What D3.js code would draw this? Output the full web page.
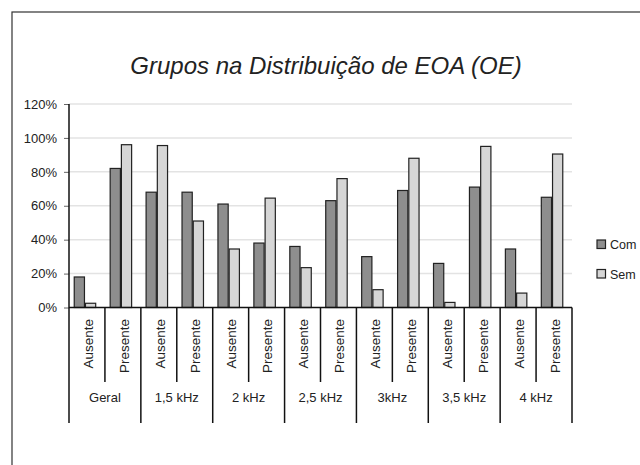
<!DOCTYPE html>
<html>
<head>
<meta charset="utf-8">
<script src="https://cdn.jsdelivr.net/npm/d3@7"></script>
<style>
  body { margin: 0; background: #fff; }
  svg { display: block; font-family: "Liberation Sans", Arial, sans-serif; }
</style>
</head>
<body>
<svg width="640" height="465"></svg>
<script>
const groups = ['Geral', '1,5 kHz', '2 kHz', '2,5 kHz', '3kHz', '3,5 kHz', '4 kHz'];
const subs = ['Ausente', 'Presente'];
const series = ['Com', 'Sem'];
const comValues = [18, 82, 68, 68, 61, 38, 36, 63, 30, 69, 26, 71, 34.5, 65];
const semValues = [2.5, 96, 95.5, 51, 34.5, 64.5, 23.5, 76, 10.5, 88, 3, 95, 8.5, 90.5];
const yTicks = [0, 20, 40, 60, 80, 100, 120];

const colors = {Com: '#8e8e8e', Sem: '#d6d6d6'};

const cats = [];
groups.forEach(g => subs.forEach(s => cats.push({group: g, sub: s})));
cats.forEach((c, i) => { c.key = i; c.Com = comValues[i]; c.Sem = semValues[i]; });

const svg = d3.select('svg');
const plotLeft = 69, plotRight = 572, plotTop = 104, plotBottom = 307.5;
const subBottom = 382, groupBottom = 423;

// chart area border
svg.append('rect')
    .attr('x', 12).attr('y', 12)
    .attr('width', 700).attr('height', 600)
    .attr('fill', 'none')
    .attr('stroke', '#333')
    .attr('stroke-width', 1.2);

svg.append('text')
    .attr('x', 326).attr('y', 74)
    .attr('text-anchor', 'middle')
    .attr('font-size', 24)
    .attr('font-style', 'italic')
    .attr('fill', '#222')
    .text('Grupos na Distribuição de EOA (OE)');

const x0 = d3.scaleBand().domain(cats.map(d => d.key)).range([plotLeft, plotRight]).padding(0);
const x1 = d3.scaleBand().domain(series).range([-2, x0.bandwidth() - 2]).paddingInner(0).paddingOuter(0.6);
const y = d3.scaleLinear().domain([0, 120]).range([plotBottom, plotTop]);

// gridlines
svg.append('g')
  .selectAll('line')
  .data(yTicks.filter(t => t > 0))
  .join('line')
    .attr('x1', plotLeft).attr('x2', plotRight)
    .attr('y1', d => y(d)).attr('y2', d => y(d))
    .attr('stroke', '#e3e3e3')
    .attr('stroke-width', 1.5);

// y axis
const yAxis = svg.append('g')
    .attr('transform', 'translate(' + plotLeft + ',0)')
    .call(d3.axisLeft(y).tickValues(yTicks).tickFormat(d => d + '%').tickSize(5).tickPadding(7));
yAxis.select('.domain').remove();
yAxis.selectAll('line').attr('stroke', '#666');
yAxis.selectAll('text').attr('font-size', 13).attr('fill', '#222').attr('font-family', '"Liberation Sans", Arial, sans-serif');

// bars
const cg = svg.append('g')
  .selectAll('g')
  .data(cats)
  .join('g')
    .attr('transform', d => 'translate(' + x0(d.key) + ',0)');

cg.selectAll('rect')
  .data(d => series.map(s => ({s: s, v: d[s]})))
  .join('rect')
    .attr('x', d => x1(d.s) + 0.5)
    .attr('y', d => y(d.v))
    .attr('width', x1.bandwidth() - 1)
    .attr('height', d => y(0) - y(d.v))
    .attr('fill', d => colors[d.s])
    .attr('stroke', '#222')
    .attr('stroke-width', 1.2);

// x axis baseline and separators
const ax = svg.append('g').attr('stroke', '#111').attr('stroke-width', 1.5);
ax.append('line').attr('x1', plotLeft).attr('x2', plotRight).attr('y1', plotBottom).attr('y2', plotBottom);
ax.append('line').attr('x1', plotLeft).attr('x2', plotLeft).attr('y1', plotTop).attr('y2', groupBottom);
ax.selectAll('.sep')
  .data(cats)
  .join('line')
    .attr('class', 'sep')
    .attr('x1', d => x0(d.key) + x0.bandwidth())
    .attr('x2', d => x0(d.key) + x0.bandwidth())
    .attr('y1', plotBottom)
    .attr('y2', d => d.sub === 'Presente' ? groupBottom : subBottom);

// sub labels
svg.append('g')
  .selectAll('text')
  .data(cats)
  .join('text')
    .attr('transform', d => 'translate(' + (x0(d.key) + x0.bandwidth() / 2 + 1) + ',319) rotate(-90)')
    .attr('dy', '0.35em')
    .attr('text-anchor', 'end')
    .attr('font-size', 13.5)
    .attr('fill', '#222')
    .text(d => d.sub);

// group labels
svg.append('g')
  .selectAll('text')
  .data(groups)
  .join('text')
    .attr('x', (g, i) => x0(i * 2) + x0.bandwidth())
    .attr('y', 402)
    .attr('text-anchor', 'middle')
    .attr('font-size', 13)
    .attr('fill', '#222')
    .text(d => d);

// legend
const lg = svg.append('g')
  .selectAll('g')
  .data(series)
  .join('g')
    .attr('transform', (d, i) => 'translate(597,' + (240 + i * 29.5) + ')');
lg.append('rect')
    .attr('width', 8.5).attr('height', 8.5)
    .attr('fill', d => colors[d])
    .attr('stroke', '#222')
    .attr('stroke-width', 1.2);
lg.append('text')
    .attr('x', 13).attr('y', 9)
    .attr('font-size', 12.5)
    .attr('fill', '#222')
    .text(d => d);
</script>
</body>
</html>
